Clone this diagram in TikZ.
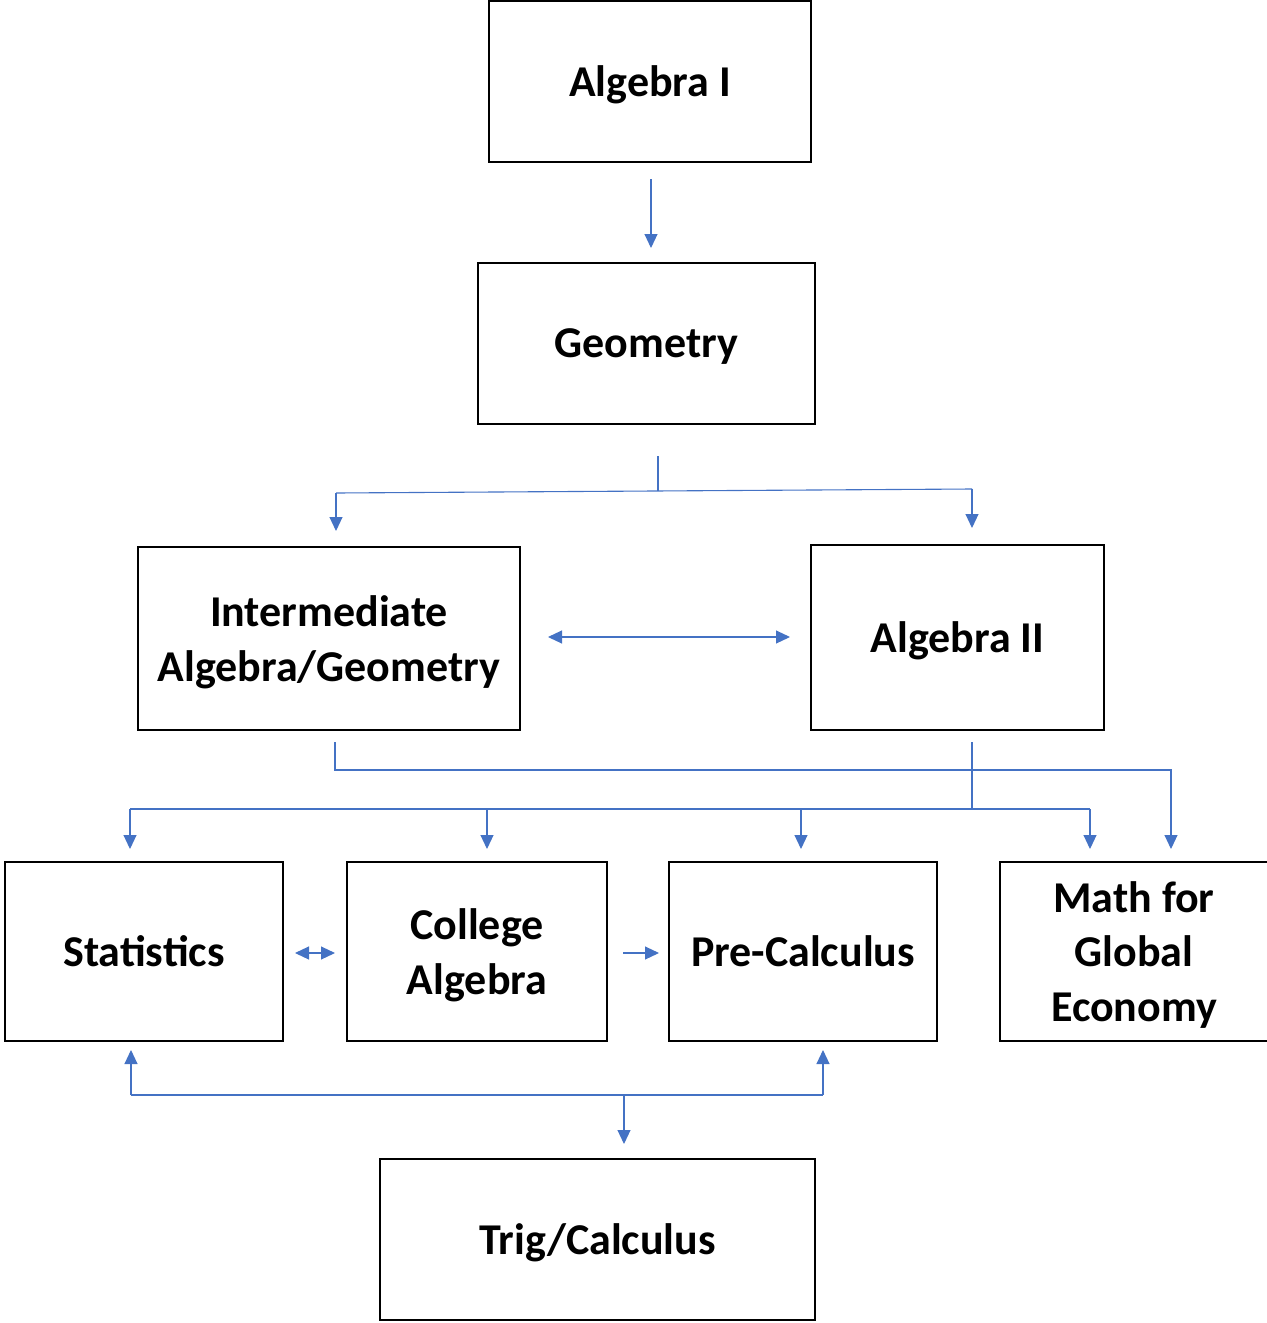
\documentclass[tikz,border=0pt]{standalone}
\usepackage{fontspec}
\setmainfont{Carlito}
\usetikzlibrary{arrows.meta}
\definecolor{linkblue}{HTML}{4472C4}
\tikzset{
  course/.style={draw=black, line width=0.7pt, align=center, inner sep=0pt,
    text depth=0pt, font=\bfseries\fontsize{22}{27.2}\selectfont},
  link/.style={draw=linkblue, line width=0.55pt},
  tip/.style={link, -{Triangle[length=7pt,width=6.5pt]}},
  twotip/.style={link, {Triangle[length=7pt,width=6.5pt]}-{Triangle[length=7pt,width=6.5pt]}}
}
\begin{document}
\begin{tikzpicture}[x=0.5pt,y=-0.5pt]
\useasboundingbox (0,0) rectangle (1267,1323);
% courses
\node[course, minimum width=161pt, minimum height=80.5pt] (algone) at (650,81.5) {Algebra I};
\node[course, minimum width=168.5pt, minimum height=80.5pt] (geom) at (646.5,343.5) {Geometry};
\node[course, minimum width=191pt, minimum height=91.5pt] (inter) at (329,638.5) {Intermediate\\Algebra/Geometry};
\node[course, minimum width=146.5pt, minimum height=92.5pt] (algtwo) at (957.5,637.5) {Algebra II};
\node[course, minimum width=139pt, minimum height=89.5pt] (stat) at (144,951.5) {Statistics};
\node[course, minimum width=130pt, minimum height=89.5pt] (coll) at (477,951.5) {College\\Algebra};
\node[course, minimum width=134pt, minimum height=89.5pt] (prec) at (803,951.5) {Pre-Calculus};
\node[course, minimum width=134pt, minimum height=89.5pt] (mge) at (1134,951.5) {Math for\\Global\\Economy};
\node[course, minimum width=217.5pt, minimum height=80.5pt] (trig) at (597.5,1239.5) {Trig/Calculus};
% connector points
\coordinate (ga) at (651,179);
\coordinate (gb) at (651,248);
\coordinate (sa) at (658,456);
\coordinate (sb) at (658,491);
\coordinate (sl) at (336,493);
\coordinate (sr) at (972,489);
\coordinate (il) at (548,637);
\coordinate (ir) at (790,637);
\coordinate (ia) at (335,742);
\coordinate (ib) at (335,770);
\coordinate (ic) at (1171,770);
\coordinate (aa) at (972,742);
\coordinate (ab) at (972,809);
\coordinate (hl) at (130,809);
\coordinate (hr) at (1090,809);
\coordinate (cl) at (295,953);
\coordinate (cr) at (335,953);
\coordinate (pl) at (623,953);
\coordinate (pr) at (659,953);
\coordinate (ta) at (624,1095);
\coordinate (tl) at (131,1095);
\coordinate (tr) at (823,1095);
% links
\draw[tip] (ga) -- (gb);
\draw[link] (sa) -- (sb);
\draw[link] (sl) -- (sr);
\draw[tip] (sl) -- (336,531);
\draw[tip] (sr) -- (972,528);
\draw[twotip] (il) -- (ir);
\draw[tip] (ia) -- (ib) -- (ic) -- (1171,849);
\draw[link] (aa) -- (ab);
\draw[link] (hl) -- (hr);
\foreach \x in {130,487,801,1090}
  \draw[tip] (\x,809) -- (\x,849);
\draw[twotip] (cl) -- (cr);
\draw[tip] (pl) -- (pr);
\draw[link] (tl) -- (tr);
\draw[tip] (ta) -- (624,1144);
\draw[tip] (tl) -- (131,1050);
\draw[tip] (tr) -- (823,1050);
\end{tikzpicture}
\end{document}
